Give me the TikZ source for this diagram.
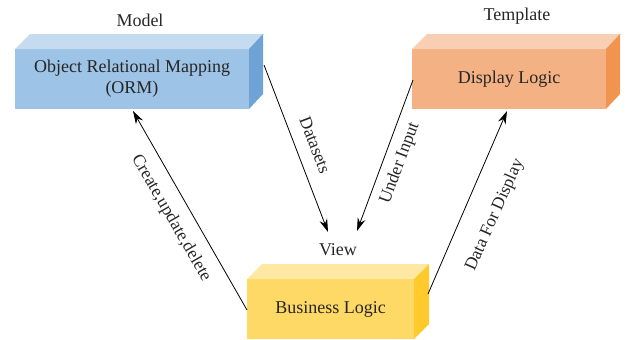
\documentclass[tikz,border=0pt]{standalone}
\usepackage{fontspec}
\setmainfont{Liberation Serif}
\usetikzlibrary{arrows.meta}
\definecolor{ormFront}{HTML}{9DC3E6}
\definecolor{ormTop}{HTML}{C5DBF0}
\definecolor{ormSide}{HTML}{6FA3D5}
\definecolor{dispFront}{HTML}{F4B183}
\definecolor{dispTop}{HTML}{F8CFB3}
\definecolor{dispSide}{HTML}{F0944F}
\definecolor{bizFront}{HTML}{FFD966}
\definecolor{bizTop}{HTML}{FFE8A3}
\definecolor{bizSide}{HTML}{FFCA2C}
\begin{document}
\begin{tikzpicture}[x=1pt,y=-1pt,
  txt/.style={font=\fontsize{18}{21}\selectfont, inner sep=0pt, align=center, text=black!85},
  front/.style={rectangle, inner sep=0pt, outer sep=0pt, draw=none, minimum height=60pt, txt},
  conn/.style={draw=black, line width=0.8pt, -{Stealth[length=13pt,width=8pt]}},
  lbl/.style={font=\fontsize{17.5}{20}\selectfont, inner sep=0pt, text=black!85}
]
\useasboundingbox (0,0) rectangle (633,340);
% Model box
\node[front, fill=ormFront, minimum width=234pt] (orm) at (132,79) {Object Relational Mapping\\(ORM)};
\fill[ormTop] (orm.north west) -- ++(15,-15) -- ++(234,0) -- (orm.north east) -- cycle;
\fill[ormSide] (orm.north east) -- ++(14,-15) -- ++(0,60) -- (orm.south east) -- cycle;
\node[txt] (model) at (140,20) {Model};
% Template box
\node[front, fill=dispFront, minimum width=194pt] (disp) at (509,79) {Display Logic};
\fill[dispTop] (disp.north west) -- ++(15,-15) -- ++(194,0) -- (disp.north east) -- cycle;
\fill[dispSide] (disp.north east) -- ++(14,-15) -- ++(0,60) -- (disp.south east) -- cycle;
\node[txt] (template) at (517,16) {Template};
% View box
\node[front, fill=bizFront, minimum width=167pt] (biz) at (330.5,309) {Business Logic};
\fill[bizTop] (biz.north west) -- ++(15,-15) -- ++(167,0) -- (biz.north east) -- cycle;
\fill[bizSide] (biz.north east) -- ++(15,-15) -- ++(0,60) -- (biz.south east) -- cycle;
\node[txt] (view) at (338,250) {View};
% connector end points
\coordinate (dsA) at (264,65);
\coordinate (dsB) at (328,232);
\coordinate (cuA) at (247,310);
\coordinate (cuB) at (133,111);
\coordinate (uiA) at (413,80);
\coordinate (uiB) at (357,231);
\coordinate (dfA) at (428,294);
\coordinate (dfB) at (507,111);
\draw[conn] (dsA) -- (dsB);
\draw[conn] (cuA) -- (cuB);
\draw[conn] (uiA) -- (uiB);
\draw[conn] (dfA) -- (dfB);
\node[lbl, rotate=-69] (ldata) at (315,145) {Datasets};
\node[lbl, rotate=-60] (lcud) at (171,218) {Create,update,delete};
\node[lbl, rotate=69.5] (lui) at (400,163) {Under Input};
\node[lbl, rotate=66] (ldfd) at (495,215) {Data For Display};
\end{tikzpicture}
\end{document}
